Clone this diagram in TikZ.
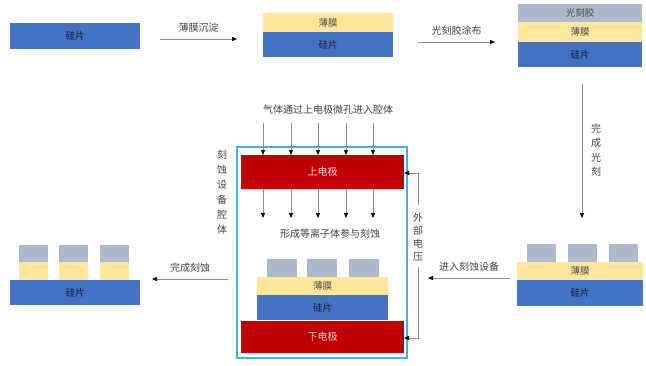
\documentclass[tikz,border=0pt]{standalone}
\usepackage{fontspec}
\setmainfont{Noto Sans CJK SC}
\usetikzlibrary{arrows.meta}
\definecolor{wafer}{HTML}{4472C4}
\definecolor{film}{HTML}{FFE699}
\definecolor{resist}{HTML}{ADB9CA}
\definecolor{electrode}{HTML}{C00000}
\definecolor{chamber}{HTML}{45AAEE}
\definecolor{lbl}{HTML}{404040}
\definecolor{lineg}{HTML}{8C8C8C}
\tikzset{
  layer/.style={inner sep=0pt, outer sep=0pt, draw=none, font=\fontsize{9.5}{11}\selectfont, text=#1},
  waferbox/.style={layer=black!75!wafer, fill=wafer},
  filmbox/.style={layer=black!70, fill=film},
  resistbox/.style={layer=black!70, fill=resist},
  elecbox/.style={layer=white!85!red, fill=electrode, font=\fontsize{10}{12}\selectfont},
  lab/.style={inner sep=0pt, text=lbl, font=\fontsize{10}{12}\selectfont},
  vlab/.style={inner sep=1pt, text=lbl, font=\fontsize{10}{12}\selectfont, align=center, fill=white},
  arr/.style={draw=lineg, line width=0.7pt, -{Triangle[length=5pt,width=4pt,fill=black,color=black]}},
  plain/.style={draw=lineg, line width=0.7pt}
}
\begin{document}
\begin{tikzpicture}[x=1pt,y=-1pt]
\useasboundingbox (0,0) rectangle (646,365);
% --- row 1 ---
\node[waferbox, minimum width=130pt, minimum height=26pt] (w1) at (75,36) {硅片};
\node[filmbox, minimum width=130pt, minimum height=19pt] (f2) at (328,22.5) {薄膜};
\node[waferbox, minimum width=130pt, minimum height=25pt] (w2) at (328,44.5) {硅片};
\node[resistbox, minimum width=124pt, minimum height=18pt] (r3) at (580,13) {光刻胶};
\node[filmbox, minimum width=124pt, minimum height=20pt] (f3) at (580,32) {薄膜};
\node[waferbox, minimum width=124pt, minimum height=25pt] (w3) at (580,54.5) {硅片};
\coordinate (a1s) at (160,39); \coordinate (a1e) at (237,39);
\draw[arr] (a1s) -- node[lab, above=6pt] (t1) {薄膜沉淀} (a1e);
\coordinate (a2s) at (418,42); \coordinate (a2e) at (495,42);
\draw[arr] (a2s) -- node[lab, above=6pt] (t2) {光刻胶涂布} (a2e);
% --- right column ---
\coordinate (a3s) at (582,84); \coordinate (a3e) at (582,218);
\draw[arr] (a3s) -- (a3e);
\node[lab, align=center, font=\fontsize{10}{14.5}\selectfont] (t3) at (596,150) {完\\成\\光\\刻};
% --- stack 4 (after lithography) ---
\node[filmbox, minimum width=126pt, minimum height=18pt] (f4) at (580,271) {薄膜};
\node[waferbox, minimum width=126pt, minimum height=26pt] (w4) at (580,293) {硅片};
\node[resistbox, minimum width=29pt, minimum height=18pt] (r4a) at (541.5,253) {};
\node[resistbox, minimum width=29pt, minimum height=18pt] (r4b) at (582.5,253) {};
\node[resistbox, minimum width=29pt, minimum height=18pt] (r4c) at (623.5,253) {};
\coordinate (a4s) at (510,278); \coordinate (a4e) at (428,278);
\draw[arr] (a4s) -- node[lab, above=6pt] (t4) {进入刻蚀设备} (a4e);
% --- chamber ---
\node[draw=chamber, line width=2pt, minimum width=170pt, minimum height=211pt, inner sep=0pt] (ch) at (322,252.5) {};
\node[elecbox, minimum width=163pt, minimum height=34pt] (ue) at (322.5,172) {上电极};
\node[elecbox, minimum width=163pt, minimum height=32pt] (le) at (322.5,337) {下电极};
\node[filmbox, minimum width=131pt, minimum height=18pt] (f5) at (322.5,286) {薄膜};
\node[waferbox, minimum width=131pt, minimum height=25pt] (w5) at (322.5,307.5) {硅片};
\node[resistbox, minimum width=30pt, minimum height=18pt] (r5a) at (282,268) {};
\node[resistbox, minimum width=30pt, minimum height=18pt] (r5b) at (322,268) {};
\node[resistbox, minimum width=30pt, minimum height=18pt] (r5c) at (363.5,268) {};
\node[lab] (gas) at (328,110) {气体通过上电极微孔进入腔体};
\node[lab] (plasma) at (330,234) {形成等离子体参与刻蚀};
\foreach \x [count=\i] in {263,291,318,346,373}{
  \coordinate (gs\i) at (\x,123);
  \coordinate (pe\i) at (\x,218);
  \draw[arr] (gs\i) -- (gs\i |- ue.north);
  \draw[arr] (gs\i |- ue.south) -- (pe\i);
}
\node[lab, align=center, font=\fontsize{10}{15}\selectfont] (chl) at (222,192) {刻\\蚀\\设\\备\\腔\\体};
% external voltage
\coordinate (vt) at (418,173);
\coordinate (vb) at (418,338);
\coordinate (vg1) at (418,205);
\coordinate (vg2) at (418,267);
\draw[arr] (vg1) -- (vt) -- (vt -| ue.east);
\draw[arr] (vg2) -- (vb) -- (vb -| le.east);
\node[lab, align=center, font=\fontsize{10}{13}\selectfont] (vl) at (418,237) {外\\部\\电\\压};
% --- final ---
\coordinate (a5s) at (228,279); \coordinate (a5e) at (152,279);
\draw[arr] (a5s) -- node[lab, above=6pt] (t5) {完成刻蚀} (a5e);
\node[waferbox, minimum width=130pt, minimum height=25pt] (w6) at (75,292.5) {硅片};
\foreach \x/\n in {33.5/a,73.5/b,114.5/c}{
  \node[filmbox, minimum width=29pt, minimum height=18pt] (f6\n) at (\x,271) {};
  \node[resistbox, minimum width=29pt, minimum height=17pt] (r6\n) at (\x,253.5) {};
}
\end{tikzpicture}
\end{document}
